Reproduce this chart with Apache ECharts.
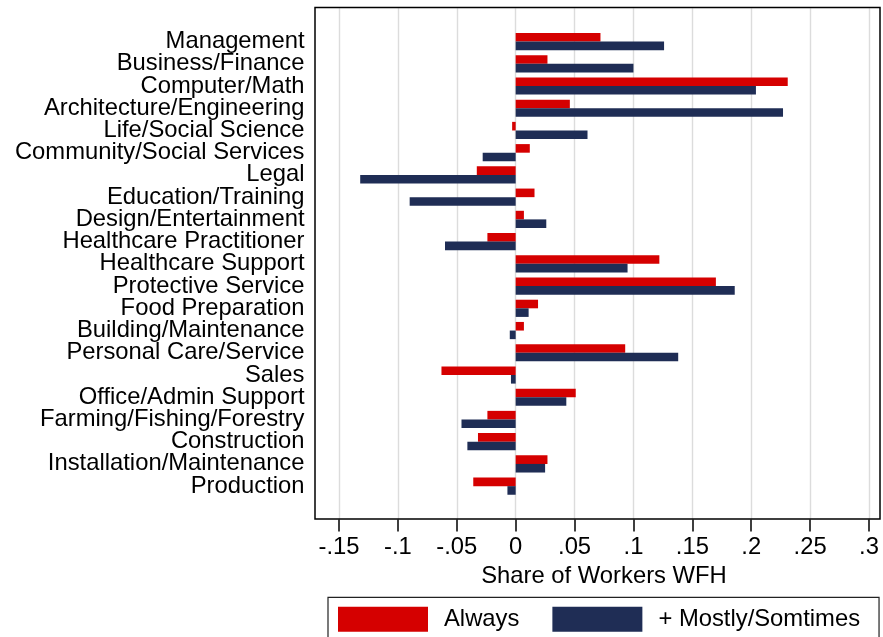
<!DOCTYPE html>
<html>
<head>
<meta charset="utf-8">
<script src="https://cdn.jsdelivr.net/npm/echarts@6/dist/echarts.min.js"></script>
<style>
  html, body { margin: 0; padding: 0; background: #fff; }
  #chart { width: 883px; height: 637px; }
</style>
</head>
<body>
<div id="chart"></div>
<script>
// Occupation groups, top to bottom
const occupations = [
  'Management', 'Business/Finance', 'Computer/Math', 'Architecture/Engineering',
  'Life/Social Science', 'Community/Social Services', 'Legal', 'Education/Training',
  'Design/Entertainment', 'Healthcare Practitioner', 'Healthcare Support',
  'Protective Service', 'Food Preparation', 'Building/Maintenance',
  'Personal Care/Service', 'Sales', 'Office/Admin Support',
  'Farming/Fishing/Forestry', 'Construction', 'Installation/Maintenance', 'Production'
];

// Share of workers WFH: "Always"
const always = [
  0.072, 0.027, 0.231, 0.046, -0.003, 0.012, -0.033, 0.016, 0.007, -0.024, 0.122,
  0.170, 0.019, 0.007, 0.093, -0.063, 0.051, -0.024, -0.032, 0.027, -0.036
];

// Share of workers WFH: "+ Mostly/Somtimes"
const mostly = [
  0.126, 0.100, 0.204, 0.227, 0.061, -0.028, -0.132, -0.090, 0.026, -0.060, 0.095,
  0.186, 0.011, -0.005, 0.138, -0.004, 0.043, -0.046, -0.041, 0.025, -0.007
];

// x-axis tick labels
const xTicks = [-0.15, -0.1, -0.05, 0, 0.05, 0.1, 0.15, 0.2, 0.25, 0.3];
const tickText = {};
xTicks.forEach(v => {
  tickText[v.toFixed(2)] = String(v).replace('0.', '.');
});

// one empty slot above and below the groups gives the plot region its margin
const cats = [''].concat(occupations, ['']);
const pad = arr => [null].concat(arr, [null]);

const FONT = '"Liberation Sans", Arial, sans-serif';
const FS = 23.8;

const chart = echarts.init(document.getElementById('chart'), null, { renderer: 'canvas' });

chart.setOption({
  animation: false,
  backgroundColor: '#ffffff',
  textStyle: { fontFamily: FONT },
  grid: { left: 339, right: 14, top: 8.2, bottom: 117.5, containLabel: false },
  xAxis: {
    type: 'value',
    min: -0.15,
    max: 0.3,
    interval: 0.05,
    axisLine: { show: false },
    axisTick: { show: true, length: 12, lineStyle: { color: '#000', width: 1.5 } },
    axisLabel: {
      color: '#000', fontSize: FS, fontFamily: FONT, margin: 16,
      formatter: v => tickText[v.toFixed(2)] ?? String(v)
    },
    splitLine: { show: true, lineStyle: { color: '#dcdcdc', width: 1.4 } },
    name: 'Share of Workers WFH',
    nameLocation: 'middle',
    nameGap: 45,
    nameTextStyle: { color: '#000', fontSize: FS, fontFamily: FONT, verticalAlign: 'top' }
  },
  yAxis: {
    type: 'category',
    data: cats,
    inverse: true,
    axisLine: { show: false },
    axisTick: { show: false },
    splitLine: { show: false },
    axisLabel: {
      color: '#000', fontSize: FS, fontFamily: FONT, margin: 34.5, interval: 0,
      padding: [4, 0, 0, 0]
    }
  },
  legend: {
    left: 328,
    top: 597.3,
    orient: 'horizontal',
    itemWidth: 90,
    itemHeight: 25,
    itemGap: 33,
    padding: [9.4, 19, 24, 10],
    borderColor: '#222',
    borderWidth: 1.2,
    icon: 'rect',
    textStyle: { color: '#000', fontSize: FS, fontFamily: FONT, padding: [0, 0, 0, 11] },
    data: ['Always', '+ Mostly/Somtimes']
  },
  series: [
    {
      name: 'Always',
      type: 'bar',
      data: pad(always),
      barWidth: 8.6,
      barGap: '0%',
      itemStyle: { color: '#d50000' }
    },
    {
      name: '+ Mostly/Somtimes',
      type: 'bar',
      data: pad(mostly),
      barWidth: 8.6,
      barGap: '0%',
      itemStyle: { color: '#1f2d55' }
    }
  ],
  graphic: [
    {
      type: 'rect',
      shape: { x: 315, y: 7.5, width: 565, height: 511.5 },
      style: { fill: 'none', stroke: '#000', lineWidth: 1.5 },
      silent: true,
      z: 10
    }
  ]
});
</script>
</body>
</html>
